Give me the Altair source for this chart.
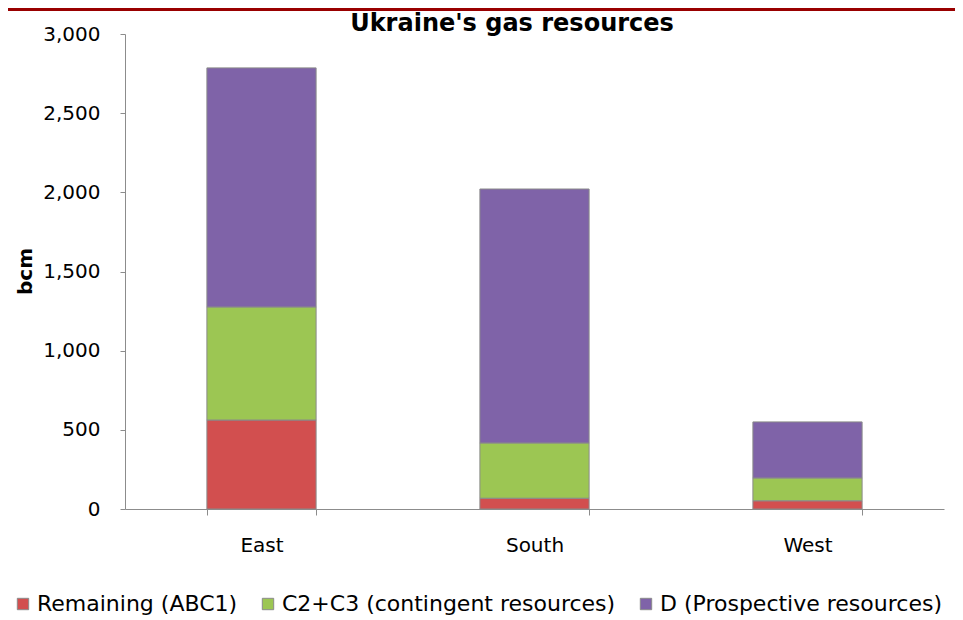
import altair as alt
import pandas as pd

regions = ["East", "South", "West"]
categories = ["Remaining (ABC1)", "C2+C3 (contingent resources)", "D (Prospective resources)"]
remaining = [562, 68, 52]
contingent = [714, 349, 144]
prospective = [1510, 1604, 354]
colors = ["#d24f4f", "#9cc653", "#7f63a8"]
title_text = "Ukraine's gas resources"

rows = []
for i, r in enumerate(regions):
    for j, (c, vals) in enumerate(zip(categories, [remaining, contingent, prospective])):
        rows.append({"region": r, "category": c, "value": vals[i], "order": j})
df = pd.DataFrame(rows)

FONT = "DejaVu Sans"

bars = alt.Chart(df).mark_bar(stroke="#8a8a8a", strokeWidth=1).encode(
    x=alt.X("region:N", sort=regions, title=None,
            scale=alt.Scale(paddingInner=0.6, paddingOuter=0.3),
            axis=alt.Axis(labelAngle=0, labelFontSize=20, labelFont=FONT, labelColor="#000",
                          domainColor="#8c8c8c", tickColor="#8c8c8c", tickSize=6,
                          tickBand="extent", labelPadding=20, grid=False)),
    y=alt.Y("value:Q", stack="zero", title="bcm",
            scale=alt.Scale(domain=[0, 3000], nice=False),
            axis=alt.Axis(values=[0, 500, 1000, 1500, 2000, 2500, 3000], format=",.0f",
                          labelFontSize=20, labelFont=FONT, labelColor="#000",
                          domainColor="#8c8c8c", tickColor="#8c8c8c", tickSize=5,
                          labelPadding=20, grid=False,
                          titleFontSize=20, titleFont=FONT, titleFontWeight="bold",
                          titleAngle=-90, titleX=-100, titleY=237, titleAlign="center",
                          titleBaseline="middle", titleColor="#000")),
    color=alt.Color("category:N", sort=categories,
                    scale=alt.Scale(domain=categories, range=colors),
                    legend=alt.Legend(title=None, orient="none", direction="horizontal",
                                      legendX=-113, legendY=559, symbolType="square",
                                      symbolSize=130, symbolStrokeColor="#8a8a8a",
                                      symbolStrokeWidth=1, labelOffset=3,
                                      labelFontSize=22, labelFont=FONT, labelColor="#000",
                                      columnPadding=19, labelLimit=500)),
    order=alt.Order("order:Q"),
)

topband = alt.Chart(pd.DataFrame({"a": [0]})).mark_rect(color="#990000").encode(
    x=alt.value(-117), x2=alt.value(835), y=alt.value(-26), y2=alt.value(-23)
)

title = alt.Chart(pd.DataFrame({"t": [title_text]})).mark_text(
    font=FONT, fontSize=24, fontWeight="bold", color="#000",
    align="center", baseline="alphabetic"
).encode(text="t:N", x=alt.value(387), y=alt.value(-3))

chart = alt.layer(topband, bars, title).properties(
    width=819, height=475,
    autosize=alt.AutoSizeParams(type="none"),
    padding={"left": 117, "top": 26, "right": 11, "bottom": 115},
).configure_view(stroke=None)

chart.save("out.html", embed_options={"renderer": "svg", "actions": False})
